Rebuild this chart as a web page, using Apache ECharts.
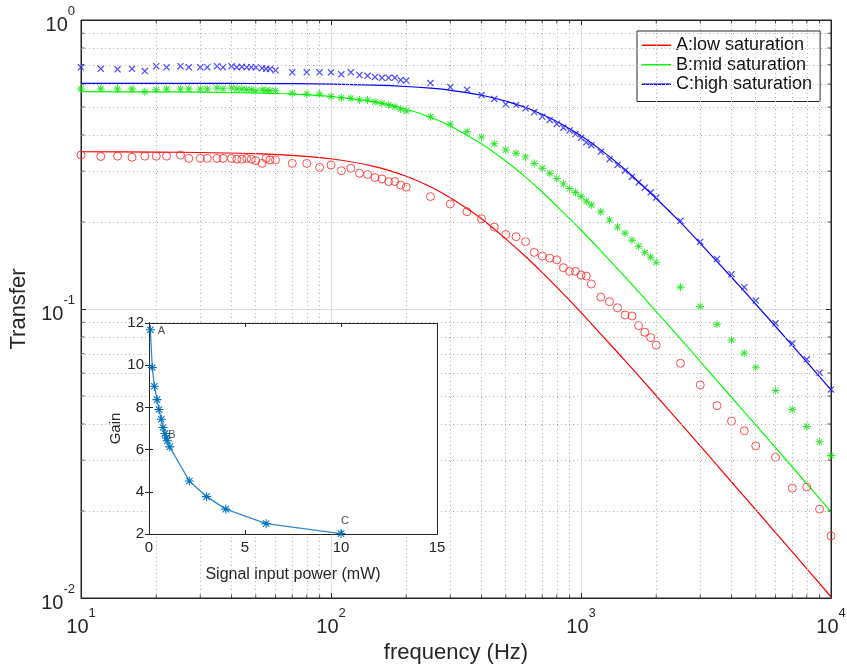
<!DOCTYPE html>
<html>
<head>
<meta charset="utf-8">
<title>Transfer vs frequency</title>
<script src="https://cdn.jsdelivr.net/npm/echarts@6/dist/echarts.min.js"></script>
<style>
    html, body { margin: 0; padding: 0; background: #fff; }
    #main { width: 847px; height: 664px; }
</style>
</head>
<body>
<div id="main"></div>
<script>
    // measured points, frequency in Hz
    var measFreq = [10, 12, 14, 16, 18, 20, 22, 25, 27, 30, 32, 35, 37, 40, 42, 44, 46, 48, 50, 53, 55, 57, 60, 70, 80, 90,
        100, 110, 120, 130, 140, 150, 160, 170, 180, 190, 200,
        250, 300, 350, 400, 450, 500, 550, 600, 650, 700, 750, 800, 850, 900, 950, 1000, 1050, 1100,
        1200, 1300, 1400, 1500, 1600, 1700, 1800, 1900, 2000,
        2500, 3000, 3500, 4000, 4500, 5000, 6000, 7000, 8000, 9000, 10000];
    var lowSat = [0.341, 0.337, 0.338, 0.335, 0.338, 0.338, 0.338, 0.341, 0.332, 0.332, 0.332, 0.332, 0.332, 0.332, 0.330, 0.330, 0.332, 0.330, 0.326, 0.319, 0.332, 0.328, 0.328, 0.319, 0.319, 0.309,
        0.315, 0.301, 0.307, 0.295, 0.292, 0.285, 0.282, 0.276, 0.276, 0.2685, 0.264,
        0.245, 0.231, 0.217, 0.205, 0.192, 0.181, 0.178, 0.171, 0.157, 0.1525, 0.150, 0.148, 0.139, 0.135, 0.135, 0.131, 0.130, 0.122,
        0.110, 0.106, 0.101, 0.0953, 0.0946, 0.0876, 0.0831, 0.0796, 0.0750,
        0.0649, 0.0546, 0.0463, 0.0409, 0.0379, 0.0336, 0.0307, 0.0240, 0.0242, 0.0203, 0.0164];
    var midSat = [0.577, 0.577, 0.577, 0.577, 0.565, 0.574, 0.577, 0.577, 0.577, 0.577, 0.577, 0.582, 0.578, 0.582, 0.577, 0.577, 0.574, 0.574, 0.569, 0.573, 0.571, 0.569, 0.569, 0.558, 0.555, 0.555,
        0.544, 0.538, 0.536, 0.529, 0.529, 0.521, 0.515, 0.508, 0.501, 0.492, 0.484,
        0.463, 0.436, 0.411, 0.394, 0.373, 0.355, 0.346, 0.336, 0.319, 0.307, 0.295, 0.283, 0.271, 0.261, 0.253, 0.245, 0.236, 0.229,
        0.217, 0.203, 0.192, 0.183, 0.173, 0.165, 0.157, 0.151, 0.145,
        0.119, 0.102, 0.0885, 0.0781, 0.0703, 0.0628, 0.0522, 0.0449, 0.0392, 0.0347, 0.0311];
    var highSat = [0.686, 0.678, 0.675, 0.678, 0.666, 0.692, 0.686, 0.692, 0.686, 0.686, 0.686, 0.692, 0.686, 0.692, 0.686, 0.689, 0.686, 0.686, 0.686, 0.681, 0.678, 0.677, 0.670, 0.659, 0.659, 0.659,
        0.659, 0.649, 0.659, 0.645, 0.641, 0.635, 0.631, 0.631, 0.631, 0.620, 0.617,
        0.605, 0.586, 0.574, 0.550, 0.533, 0.511, 0.508, 0.495, 0.480, 0.463, 0.451, 0.437, 0.424, 0.415, 0.403, 0.391, 0.377, 0.369,
        0.350, 0.330, 0.315, 0.301, 0.287, 0.274, 0.263, 0.2535, 0.243,
        0.202, 0.171, 0.149, 0.132, 0.119, 0.107, 0.0892, 0.0761, 0.0670, 0.0602, 0.0527];

    // fitted curves
    var fitFreq = [10, 20, 30, 50, 70, 100, 150, 200, 250, 300, 400, 500, 600, 700, 800, 1000, 1200, 1500, 2000, 2500, 3000, 4000, 5000, 7000, 10000];
    var lowFit = [0.350, 0.349, 0.348, 0.345, 0.340, 0.331, 0.311, 0.288, 0.265, 0.2425, 0.2053, 0.1749, 0.1519, 0.1336, 0.1190, 0.0973, 0.0818, 0.0663, 0.0501, 0.0402, 0.0336, 0.0252, 0.0202, 0.01444, 0.0101];
    var midFit = [0.565, 0.564, 0.563, 0.559, 0.554, 0.5435, 0.520, 0.491, 0.461, 0.430, 0.373, 0.325, 0.286, 0.254, 0.227, 0.1876, 0.1589, 0.1291, 0.0980, 0.0788, 0.0658, 0.0495, 0.0397, 0.0284, 0.0199];
    var highFit = [0.604, 0.604, 0.6037, 0.603, 0.6021, 0.6001, 0.5953, 0.5888, 0.5807, 0.5712, 0.5491, 0.5241, 0.4978, 0.4712, 0.4454, 0.3976, 0.3553, 0.3039, 0.2412, 0.1993, 0.1686, 0.1288, 0.1040, 0.0748, 0.0525];

    // inset: gain vs signal input power (mW)
    var powerIn = [0.07, 0.17, 0.28, 0.42, 0.52, 0.64, 0.73, 0.83, 0.9, 0.95, 1.08, 2.1, 3.0, 4.0, 6.1, 10.0];
    var gain = [11.68, 9.89, 9.0, 8.37, 7.90, 7.44, 7.05, 6.76, 6.55, 6.42, 6.13, 4.51, 3.77, 3.18, 2.49, 2.02];
    var pointNames = ['A', 'B', 'C'];
    var pointNameX = [0.45, 1.0, 10.0];
    var pointNameY = [11.6, 6.7, 2.6];

    // minor grid / tick values of the log axes
    var minorFreq = [20, 30, 40, 50, 60, 70, 80, 90, 200, 300, 400, 500, 600, 700, 800, 900, 2000, 3000, 4000, 5000, 6000, 7000, 8000, 9000];
    var minorTransfer = [0.02, 0.03, 0.04, 0.05, 0.06, 0.07, 0.08, 0.09, 0.2, 0.3, 0.4, 0.5, 0.6, 0.7, 0.8, 0.9];

    var FONT = '"Liberation Sans", Helvetica, Arial, sans-serif';
    var AXIS = '#262626';

    function pairs(xs, ys) {
        return xs.map(function (x, i) { return [x, ys[i]]; });
    }

    // marker shapes (MATLAB 'x' and '*')
    var crossPath = 'path://M-10,-7.5L-7.5,-10L10,7.5L7.5,10Z M7.5,-10L10,-7.5L-7.5,10L-10,7.5Z';
    var starPath = 'path://M-1.2,-10L1.2,-10L1.2,10L-1.2,10Z M-10,-1.2L10,-1.2L10,1.2L-10,1.2Z ' +
        'M-6.22,-7.92L7.92,6.22L6.22,7.92L-7.92,-6.22Z M-7.92,6.22L6.22,-7.92L7.92,-6.22L-6.22,7.92Z';

    function powLabel(v) {
        return '{b|10}{s|' + Math.round(Math.log10(v)) + '}';
    }
    var powRich = {
        b: { fontSize: 20, fontFamily: FONT, color: AXIS, lineHeight: 30, verticalAlign: 'bottom' },
        s: { fontSize: 13, fontFamily: FONT, color: AXIS, lineHeight: 14, verticalAlign: 'top' }
    };

    function minorTicks(points, size, offset) {
        return {
            type: 'scatter', xAxisIndex: 0, yAxisIndex: 0, silent: true, z: 5,
            symbol: 'rect', symbolSize: size, symbolOffset: offset,
            itemStyle: { color: AXIS },
            data: points
        };
    }

    var chart = echarts.init(document.getElementById('main'));

    var option = {
        backgroundColor: '#fff',
        animation: false,
        textStyle: { fontFamily: FONT },
        grid: [
            { left: 81, top: 20, width: 750, height: 578, outerBoundsMode: 'none', containLabel: false,
              show: true, borderColor: AXIS, borderWidth: 1 },
            { left: 149, top: 323, width: 288, height: 211, outerBoundsMode: 'none', containLabel: false }
        ],
        legend: {
            data: ['A:low saturation', 'B:mid saturation', 'C:high saturation'],
            orient: 'vertical',
            left: 637, top: 31,
            padding: [5, 8, 8, 5],
            itemGap: 1,
            icon: 'rect',
            itemWidth: 29, itemHeight: 1.5,
            backgroundColor: '#fff',
            borderColor: AXIS, borderWidth: 1, borderRadius: 0,
            textStyle: { fontSize: 18, fontFamily: FONT, color: '#111', lineHeight: 18.5 }
        },
        graphic: [{
            type: 'rect', z: 10, silent: true,
            shape: { x: 149.5, y: 323.5, width: 288, height: 211 },
            style: { fill: '#fff', stroke: AXIS, lineWidth: 1 }
        }],
        xAxis: [
            {
                type: 'log', logBase: 10, gridIndex: 0, min: 10, max: 10000, position: 'bottom',
                name: 'frequency (Hz)', nameLocation: 'middle', nameGap: 44,
                nameTextStyle: { fontSize: 22, fontFamily: FONT, color: AXIS },
                axisLine: { lineStyle: { color: AXIS } },
                axisTick: { inside: true, length: 5, lineStyle: { color: AXIS } },
                axisLabel: { margin: 9, formatter: powLabel, rich: powRich },
                splitLine: { show: true, lineStyle: { color: '#dedede', width: 1 } }
            },
            {
                type: 'log', logBase: 10, gridIndex: 0, min: 10, max: 10000, position: 'top',
                axisLine: { lineStyle: { color: AXIS } },
                axisTick: { inside: true, length: 5, lineStyle: { color: AXIS } },
                axisLabel: { show: false }, splitLine: { show: false }
            },
            {
                type: 'value', gridIndex: 1, min: 0, max: 15, interval: 5, position: 'bottom', z: 20,
                name: 'Signal input power (mW)', nameLocation: 'middle', nameGap: 33,
                nameTextStyle: { fontSize: 16, fontFamily: FONT, color: AXIS },
                axisLine: { lineStyle: { color: AXIS } },
                axisTick: { inside: true, length: 4, lineStyle: { color: AXIS } },
                axisLabel: { fontSize: 15, fontFamily: FONT, color: AXIS, margin: 6 },
                splitLine: { show: false }
            },
            {
                type: 'value', gridIndex: 1, min: 0, max: 15, interval: 5, position: 'top', z: 20,
                axisLine: { lineStyle: { color: AXIS } },
                axisTick: { inside: true, length: 4, lineStyle: { color: AXIS } },
                axisLabel: { show: false }, splitLine: { show: false }
            }
        ],
        yAxis: [
            {
                type: 'log', logBase: 10, gridIndex: 0, min: 0.01, max: 1, position: 'left',
                name: 'Transfer', nameLocation: 'middle', nameGap: 49,
                nameTextStyle: { fontSize: 22, fontFamily: FONT, color: AXIS },
                axisLine: { lineStyle: { color: AXIS } },
                axisTick: { inside: true, length: 5, lineStyle: { color: AXIS } },
                axisLabel: { margin: 6, formatter: powLabel, rich: powRich },
                splitLine: { show: true, lineStyle: { color: '#dedede', width: 1 } }
            },
            {
                type: 'log', logBase: 10, gridIndex: 0, min: 0.01, max: 1, position: 'right',
                axisLine: { lineStyle: { color: AXIS } },
                axisTick: { inside: true, length: 5, lineStyle: { color: AXIS } },
                axisLabel: { show: false }, splitLine: { show: false }
            },
            {
                type: 'value', gridIndex: 1, min: 2, max: 12, interval: 2, position: 'left', z: 20,
                name: 'Gain', nameLocation: 'middle', nameGap: 24,
                nameTextStyle: { fontSize: 15, fontFamily: FONT, color: AXIS },
                axisLine: { lineStyle: { color: AXIS } },
                axisTick: { inside: true, length: 4, lineStyle: { color: AXIS } },
                axisLabel: { fontSize: 15, fontFamily: FONT, color: AXIS, margin: 5 },
                splitLine: { show: false }
            },
            {
                type: 'value', gridIndex: 1, min: 2, max: 12, interval: 2, position: 'right', z: 20,
                axisLine: { lineStyle: { color: AXIS } },
                axisTick: { inside: true, length: 4, lineStyle: { color: AXIS } },
                axisLabel: { show: false }, splitLine: { show: false }
            }
        ],
        series: [
            // dotted minor grid
            {
                type: 'line', name: 'grid', xAxisIndex: 0, yAxisIndex: 0, silent: true, z: 1,
                symbol: 'none', lineStyle: { opacity: 0 }, data: [[10, 1]],
                markLine: {
                    silent: true, symbol: 'none', label: { show: false }, animation: false,
                    lineStyle: { type: [1, 3], color: '#b4b4b4', width: 1 },
                    data: minorFreq.map(function (v) { return { xAxis: v }; })
                        .concat(minorTransfer.map(function (v) { return { yAxis: v }; }))
                }
            },
            {
                type: 'line', name: 'A:low saturation', xAxisIndex: 0, yAxisIndex: 0, z: 3,
                data: pairs(fitFreq, lowFit), smooth: 0.3, symbol: 'none',
                color: '#ff0000', lineStyle: { color: '#ff0000', width: 1.2 }
            },
            {
                type: 'line', name: 'B:mid saturation', xAxisIndex: 0, yAxisIndex: 0, z: 3,
                data: pairs(fitFreq, midFit), smooth: 0.3, symbol: 'none',
                color: '#00ff00', lineStyle: { color: '#00ff00', width: 1.2 }
            },
            {
                type: 'line', name: 'C:high saturation', xAxisIndex: 0, yAxisIndex: 0, z: 3,
                data: pairs(fitFreq, highFit), smooth: 0.3, symbol: 'none',
                color: '#0000ff', lineStyle: { color: '#0000ff', width: 1.2 }
            },
            {
                type: 'scatter', name: 'low measured', xAxisIndex: 0, yAxisIndex: 0, z: 4,
                data: pairs(measFreq, lowSat), symbol: 'circle', symbolSize: 8,
                itemStyle: { color: 'rgba(0,0,0,0)', borderColor: '#ff2020', borderWidth: 1 }
            },
            {
                type: 'scatter', name: 'mid measured', xAxisIndex: 0, yAxisIndex: 0, z: 4,
                data: pairs(measFreq, midSat), symbol: starPath, symbolSize: 8,
                itemStyle: { color: '#00e000' }
            },
            {
                type: 'scatter', name: 'high measured', xAxisIndex: 0, yAxisIndex: 0, z: 4,
                data: pairs(measFreq, highSat), symbol: crossPath, symbolSize: 7,
                itemStyle: { color: '#2020ff' }
            },
            // minor ticks on the four sides of the main box
            minorTicks(minorFreq.map(function (v) { return [v, 0.01]; }), [1, 3.5], [0, -1.75]),
            minorTicks(minorFreq.map(function (v) { return [v, 1]; }), [1, 3.5], [0, 1.75]),
            minorTicks(minorTransfer.map(function (v) { return [10, v]; }), [3.5, 1], [1.75, 0]),
            minorTicks(minorTransfer.map(function (v) { return [10000, v]; }), [3.5, 1], [-1.75, 0]),
            // inset
            {
                type: 'line', name: 'gain', xAxisIndex: 2, yAxisIndex: 2, z: 30,
                data: pairs(powerIn, gain), symbol: starPath, symbolSize: 9, showSymbol: true,
                itemStyle: { color: '#0072BD' },
                lineStyle: { color: '#2f8ad0', width: 1.3 }
            },
            {
                type: 'scatter', name: 'points', xAxisIndex: 2, yAxisIndex: 2, z: 31,
                data: pointNameX.map(function (x, i) { return [x, pointNameY[i], pointNames[i]]; }),
                symbolSize: 0,
                label: {
                    show: true, position: 'right', distance: 0,
                    formatter: function (p) { return p.value[2]; },
                    fontSize: 11, fontFamily: FONT, color: '#222'
                }
            }
        ]
    };

    chart.setOption(option);
</script>
</body>
</html>
